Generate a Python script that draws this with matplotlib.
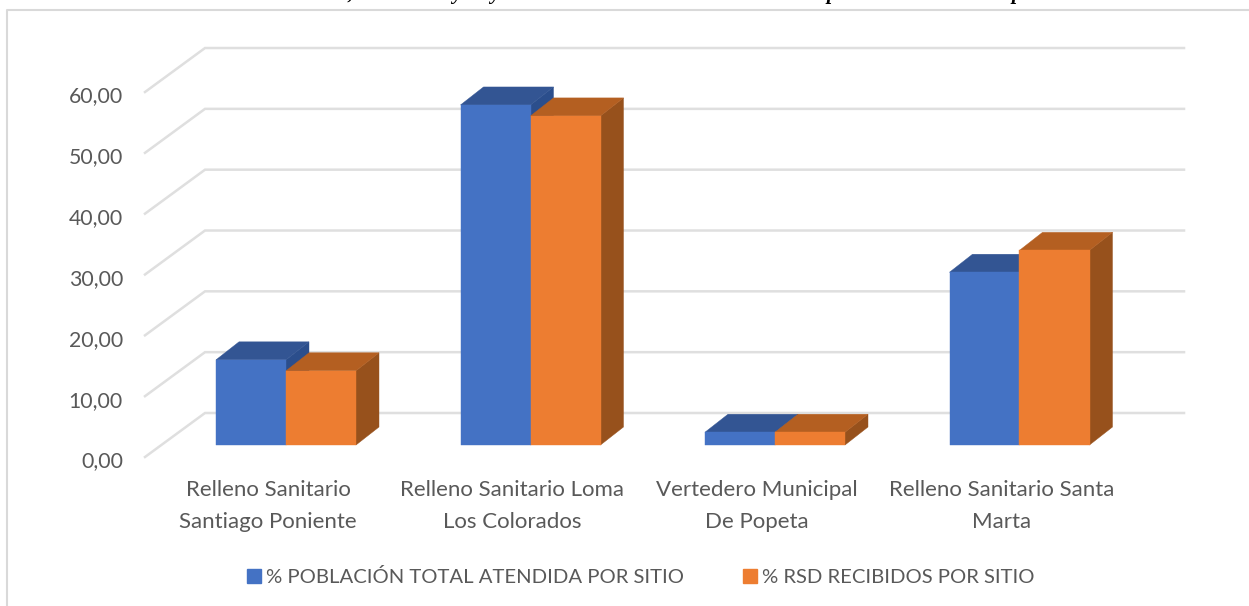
import matplotlib
matplotlib.use("Agg")
import matplotlib.pyplot as plt
from matplotlib.lines import Line2D
from matplotlib.patches import Patch, Polygon

plt.rcParams['font.family'] = ['Lato', 'DejaVu Sans']

categories = ["Relleno Sanitario\nSantiago Poniente", "Relleno Sanitario Loma\nLos Colorados",
              "Vertedero Municipal\nDe Popeta", "Relleno Sanitario Santa\nMarta"]
poblacion = [14.0, 55.9, 2.1, 28.4]
rsd = [12.2, 54.1, 2.1, 32.0]
yticks = [0, 10, 20, 30, 40, 50, 60]
ytick_labels = ["0,00", "10,00", "20,00", "30,00", "40,00", "50,00", "60,00"]
series_names = ["% POBLACIÓN TOTAL ATENDIDA POR SITIO", "% RSD RECIBIDOS POR SITIO"]
title_bits = [(350, ","), (457, "y"), (495, "y"), (832, "p"), (1017, "p")]

W, H = 1249, 606
PX_X = 244.5  # px per category
PX_Y = 6.083  # px per value unit
X0 = 286      # px of first group centre
Y0 = 445      # px of value 0 in the bar plane

blue = ("#4472C4", "#335593", "#2B4E8C")
orange = ("#ED7D31", "#B45F21", "#97511C")
grid_col = "#DFDFDF"
text_col = "#595959"


def dx(px):
    return px / PX_X


def dy(px):
    return px / PX_Y


def bar3d(ax, left, value, cols):
    width = dx(70)
    ox, oy = dx(23), dy(18)
    ax.add_patch(Polygon([(left + width, 0), (left + width + ox, oy), (left + width + ox, value + oy), (left + width, value)],
                         facecolor=cols[2], edgecolor=cols[2], lw=0.3))
    ax.add_patch(Polygon([(left, value), (left + ox, value + oy), (left + width + ox, value + oy), (left + width, value)],
                         facecolor=cols[1], edgecolor=cols[1], lw=0.3))
    ax.add_patch(Polygon([(left, 0), (left, value), (left + width, value), (left + width, 0)],
                         facecolor=cols[0], edgecolor=cols[0], lw=0.3))


fig = plt.figure(figsize=(W / 100, H / 100), dpi=100)
ax = fig.add_axes([0, 0, 1, 1])
ax.set_xlim(-X0 / PX_X, (W - X0) / PX_X)
ax.set_ylim((Y0 - H) / PX_Y, Y0 / PX_Y)
ax.axis("off")

# floor and wall lines
x_front = dx(145 - X0)
x_back = dx(205 - X0)
x_end = dx(1184 - X0)
for v, lab in zip(yticks, ytick_labels):
    y_front = v + dy(Y0 - 457)
    y_back = v + dy(Y0 - 413)
    ax.plot([x_front, x_back, x_end], [y_front, y_back, y_back], color=grid_col, lw=1.8,
            solid_joinstyle="miter", zorder=1)
    ax.text(dx(123 - X0), y_front - dy(4.5), lab, ha="right", va="center", fontsize=15.3, color=text_col)

for i, (a, b) in enumerate(zip(poblacion, rsd)):
    bar3d(ax, i - dx(70), a, blue)
    bar3d(ax, i, b, orange)
    ax.text(i - dx(18), dy(Y0 - 506), categories[i], ha="center", va="center", fontsize=16,
            color=text_col, linespacing=1.75)

handles = [Patch(color=blue[0]), Patch(color=orange[0])]
fig.legend(handles, series_names, loc="center", bbox_to_anchor=(640.5 / W, 1 - 577 / H), ncol=2, frameon=False,
           fontsize=14.6, labelcolor=text_col, handlelength=0.7, handleheight=0.7, handletextpad=0.25,
           columnspacing=2.9)

# chart border, only top and left are in the crop
fig.add_artist(Line2D([7 / W, 7 / W, 1], [0, 1 - 10 / H, 1 - 10 / H], color="#D9D9D9", lw=1.5))

# title sits above the crop, only its descenders show
for px, s in title_bits:
    fig.text(px / W, 1 + 1 / H, s, ha="center", va="baseline", fontsize=15, color="black",
             family="Liberation Serif", weight="bold", style="italic")

fig.savefig("out.png", dpi=100)
